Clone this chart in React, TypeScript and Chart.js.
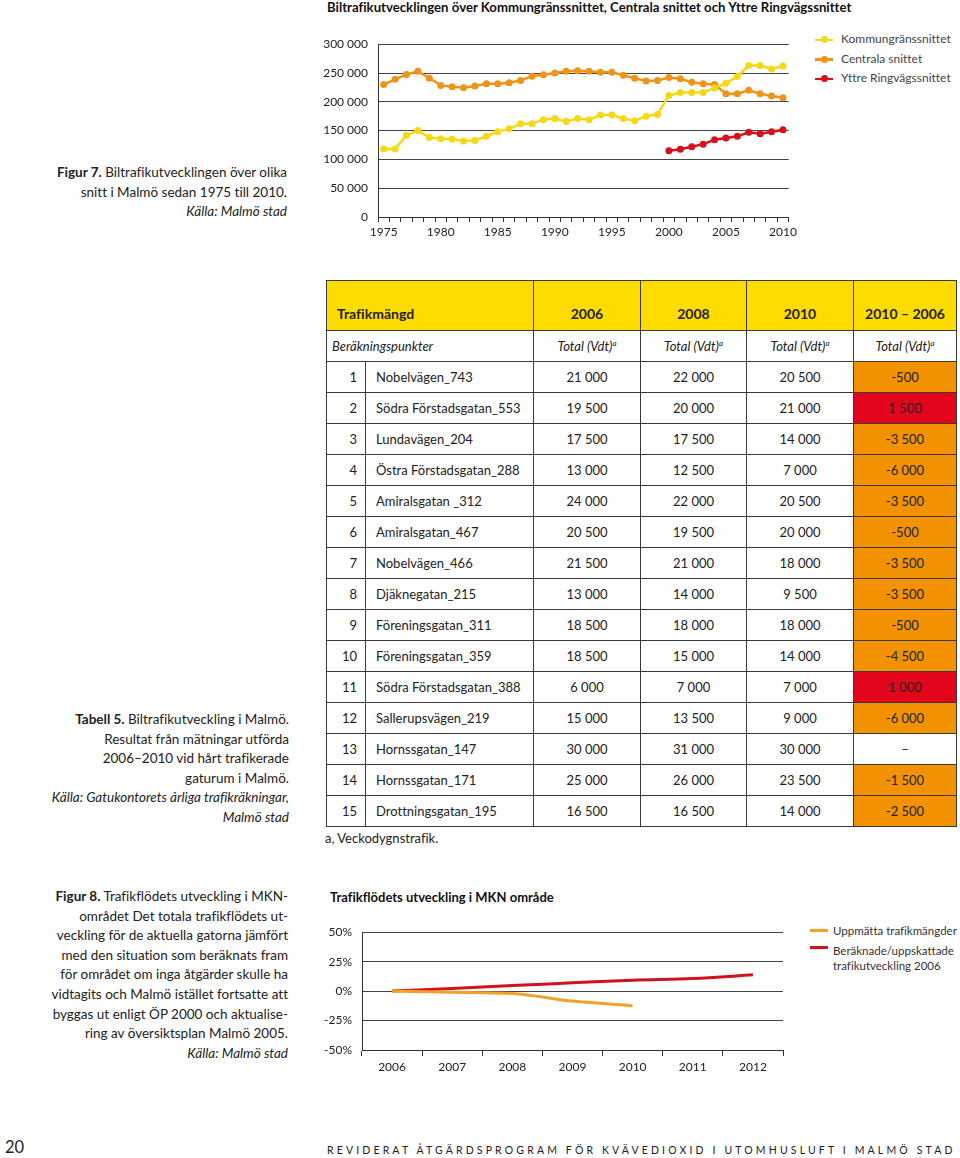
import React, { useEffect, useRef } from 'react';
import Chart from 'chart.js/auto';

// ---------- Figure 7 data ----------
const YEARS = ['1975','1976','1977','1978','1979','1980','1981','1982','1983','1984','1985','1986','1987','1988','1989','1990','1991','1992','1993','1994','1995','1996','1997','1998','1999','2000','2001','2002','2003','2004','2005','2006','2007','2008','2009','2010'];
const KOMMUN = [118000,118000,142000,150000,138000,136000,135000,132000,133000,140000,148000,153000,162000,162000,169000,171000,166000,171000,169000,177000,177000,171000,167000,175000,178000,211000,216000,216000,216000,224000,232000,244000,263000,263000,257000,262000];
const CENTRALA = [230000,239000,247500,253000,241000,228500,226000,224500,227500,231500,231500,233000,237000,244500,247000,250000,253000,254000,253000,251500,251500,246000,241000,236000,237000,242000,240000,234000,231500,230000,214000,214000,220000,214000,210000,207000];
const YTTRE = [null,null,null,null,null,null,null,null,null,null,null,null,null,null,null,null,null,null,null,null,null,null,null,null,null,115000,117500,122000,126500,134000,137000,140000,147000,144500,148000,151500];
const Y1_TICKS = [0, 50000, 100000, 150000, 200000, 250000, 300000];
const FIG7_SERIES = ['Kommungränssnittet', 'Centrala snittet', 'Yttre Ringvägssnittet'];

// ---------- Figure 8 data ----------
const MKN_YEARS = ['2006','2007','2008','2009','2010','2011','2012'];
const UPPMATTA = [0, -1, -2, -8.5, -12.5, null, null];
const BERAKNADE = [0, 2.2, 4.8, 7, 9.3, 10.7, 13.8];
const Y2_TICKS = [-50, -25, 0, 25, 50];
const FIG8_SERIES = ['Uppmätta trafikmängder', 'Beräknade/uppskattade trafikutveckling 2006'];

// ---------- Table 5 data ----------
const PUNKTER = ['Nobelvägen_743','Södra Förstadsgatan_553','Lundavägen_204','Östra Förstadsgatan_288','Amiralsgatan _312','Amiralsgatan_467','Nobelvägen_466','Djäknegatan_215','Föreningsgatan_311','Föreningsgatan_359','Södra Förstadsgatan_388','Sallerupsvägen_219','Hornssgatan_147','Hornssgatan_171','Drottningsgatan_195'];
const V2006 = [21000,19500,17500,13000,24000,20500,21500,13000,18500,18500,6000,15000,30000,25000,16500];
const V2008 = [22000,20000,17500,12500,22000,19500,21000,14000,18000,15000,7000,13500,31000,26000,16500];
const V2010 = [20500,21000,14000,7000,20500,20000,18000,9500,18000,14000,7000,9000,30000,23500,14000];
const DIFF = [-500,1500,-3500,-6000,-3500,-500,-3500,-3500,-500,-4500,1000,-6000,null,-1500,-2500];
const TABLE_YEARS = ['2006','2008','2010','2010 – 2006'];

const YELLOW = '#f6d818';
const ORANGE = '#ef9418';
const RED = '#d8101c';
const ORANGE2 = '#f2a12a';
const RED2 = '#d2121e';
const CELL_ORANGE = '#f39200';
const CELL_RED = '#e3051b';
const HEAD_YELLOW = '#ffdc00';
const FONT = "Lato, 'Open Sans', sans-serif";

const fmt = (n: number) => {
  const s = String(Math.abs(n));
  const out = s.replace(/\B(?=(\d{3})+(?!\d))/g, ' ');
  return (n < 0 ? '-' : '') + out;
};

function Fig7Chart() {
  const ref = useRef<HTMLCanvasElement>(null);
  useEffect(() => {
    if (!ref.current) return;
    const ch = new Chart(ref.current, {
      type: 'line',
      data: {
        labels: YEARS,
        datasets: [
          { label: FIG7_SERIES[0], data: KOMMUN, borderColor: YELLOW, backgroundColor: YELLOW, pointBackgroundColor: YELLOW, pointBorderColor: YELLOW, borderWidth: 2.5, pointRadius: 3.5, pointBorderWidth: 0, tension: 0 },
          { label: FIG7_SERIES[1], data: CENTRALA, borderColor: ORANGE, backgroundColor: ORANGE, pointBackgroundColor: ORANGE, pointBorderColor: ORANGE, borderWidth: 2.5, pointRadius: 3.5, pointBorderWidth: 0, tension: 0 },
          { label: FIG7_SERIES[2], data: YTTRE, borderColor: RED, backgroundColor: RED, pointBackgroundColor: RED, pointBorderColor: RED, borderWidth: 2.5, pointRadius: 3.5, pointBorderWidth: 0, tension: 0, spanGaps: false },
        ],
      },
      options: {
        animation: false,
        responsive: false,
        maintainAspectRatio: false,
        layout: { padding: { top: 10, right: 8, left: 0, bottom: 0 } },
        plugins: { legend: { display: false }, tooltip: { enabled: false } },
        scales: {
          x: {
            offset: true,
            grid: { drawOnChartArea: false, drawTicks: true, tickLength: 5, offset: true, color: '#333' },
            border: { display: true, color: '#333', width: 1 },
            ticks: {
              autoSkip: false, maxRotation: 0, minRotation: 0, padding: 3,
              color: '#222', font: { family: FONT, size: 12 },
              callback: (_v: any, i: number) => (Number(YEARS[i]) % 5 === 0 ? YEARS[i] : ''),
            },
            afterFit: (s: any) => { s.height = 25; },
          },
          y: {
            min: 0, max: 300000,
            afterBuildTicks: (s: any) => { s.ticks = Y1_TICKS.map((v) => ({ value: v })); },
            grid: { color: '#444', drawTicks: false, lineWidth: 1 },
            border: { display: true, color: '#333', width: 1 },
            ticks: { padding: 10, color: '#222', font: { family: FONT, size: 12 }, callback: (v: any) => fmt(Number(v)) },
            afterFit: (s: any) => { s.width = 58; },
          },
        },
      },
    } as any);
    return () => ch.destroy();
  }, []);
  return <canvas ref={ref} width={480} height={215} style={{ position: 'absolute', left: 320, top: 27 }} />;
}

function Fig8Chart() {
  const ref = useRef<HTMLCanvasElement>(null);
  useEffect(() => {
    if (!ref.current) return;
    const ch = new Chart(ref.current, {
      type: 'line',
      data: {
        labels: MKN_YEARS,
        datasets: [
          { label: FIG8_SERIES[0], data: UPPMATTA, borderColor: ORANGE2, backgroundColor: ORANGE2, borderWidth: 3, pointRadius: 0, cubicInterpolationMode: 'monotone' },
          { label: FIG8_SERIES[1], data: BERAKNADE, borderColor: RED2, backgroundColor: RED2, borderWidth: 3, pointRadius: 0, cubicInterpolationMode: 'monotone' },
        ],
      },
      options: {
        animation: false,
        responsive: false,
        maintainAspectRatio: false,
        layout: { padding: { top: 16, right: 17, left: 0, bottom: 0 } },
        plugins: { legend: { display: false }, tooltip: { enabled: false } },
        scales: {
          x: {
            offset: true,
            grid: { drawOnChartArea: false, drawTicks: true, tickLength: 6, offset: true, color: '#333' },
            border: { display: true, color: '#333', width: 1 },
            ticks: { autoSkip: false, maxRotation: 0, padding: 4, color: '#222', font: { family: FONT, size: 12 } },
            afterFit: (s: any) => { s.height = 30; },
          },
          y: {
            min: -50, max: 50,
            afterBuildTicks: (s: any) => { s.ticks = Y2_TICKS.map((v) => ({ value: v })); },
            grid: { color: '#444', drawTicks: false, lineWidth: 1 },
            border: { display: true, color: '#333', width: 1 },
            ticks: { padding: 10, color: '#222', font: { family: FONT, size: 12 }, callback: (v: any) => `${v}%` },
            afterFit: (s: any) => { s.width = 42; },
          },
        },
      },
    } as any);
    return () => ch.destroy();
  }, []);
  return <canvas ref={ref} width={480} height={165} style={{ position: 'absolute', left: 320, top: 915 }} />;
}

const abs = (left: number, top: number, extra: React.CSSProperties = {}): React.CSSProperties => ({
  position: 'absolute', left, top, ...extra,
});

function Caption({ right, top, lines }: { right: number; top: number; lines: React.ReactNode[] }) {
  return (
    <div style={{ position: 'absolute', left: right - 300, width: 300, top, textAlign: 'right', fontSize: 13.5, lineHeight: '19.6px', color: '#222', whiteSpace: 'nowrap' }}>
      {lines.map((l, i) => <div key={i}>{l}</div>)}
    </div>
  );
}

function LegendMarker({ color, dot, gap = 8 }: { color: string; dot: boolean; gap?: number }) {
  return (
    <span style={{ position: 'relative', display: 'inline-block', width: 18, height: 10, marginRight: gap, verticalAlign: 'middle', flex: 'none' }}>
      <span style={{ position: 'absolute', left: 0, top: dot ? 4 : 3, width: 18, height: dot ? 2.5 : 3, background: color }} />
      {dot && <span style={{ position: 'absolute', left: 5.5, top: 1.5, width: 7, height: 7, borderRadius: '50%', background: color }} />}
    </span>
  );
}

function Table5() {
  const border = '1px solid #3a3a3a';
  const colW = [39, 168, 107, 106, 107, 103];
  const td: React.CSSProperties = { border, padding: 0, height: 30, fontSize: 13, color: '#222' };
  const head: React.CSSProperties = { ...td, height: 41, background: HEAD_YELLOW, fontWeight: 700, fontSize: 14, verticalAlign: 'bottom', paddingBottom: 8 };
  return (
    <table style={{ position: 'absolute', left: 326, top: 280, borderCollapse: 'collapse', tableLayout: 'fixed', width: 630, fontFamily: FONT, fontVariantLigatures: 'none' }}>
      <colgroup>{colW.map((w, i) => <col key={i} style={{ width: w }} />)}</colgroup>
      <tbody>
        <tr>
          <td colSpan={2} style={{ ...head, paddingLeft: 10 }}>Trafikmängd</td>
          {TABLE_YEARS.map((y, i) => (
            <td key={i} style={{ ...head, textAlign: 'center' }}>{y}</td>
          ))}
        </tr>
        <tr>
          <td colSpan={2} style={{ ...td, fontStyle: 'italic', paddingLeft: 5 }}>Beräkningspunkter</td>
          {TABLE_YEARS.map((_, i) => (
            <td key={i} style={{ ...td, fontStyle: 'italic', textAlign: 'center' }}>Total (Vdt)<sup style={{ fontSize: 8 }}>a</sup></td>
          ))}
        </tr>
        {PUNKTER.map((name, r) => {
          const d = DIFF[r];
          const bg = d === null ? '#fff' : d > 0 ? CELL_RED : CELL_ORANGE;
          return (
            <tr key={r}>
              <td style={{ ...td, textAlign: 'right', paddingRight: 8 }}>{r + 1}</td>
              <td style={{ ...td, paddingLeft: 10 }}>{name}</td>
              <td style={{ ...td, textAlign: 'center' }}>{fmt(V2006[r])}</td>
              <td style={{ ...td, textAlign: 'center' }}>{fmt(V2008[r])}</td>
              <td style={{ ...td, textAlign: 'center' }}>{fmt(V2010[r])}</td>
              <td style={{ ...td, textAlign: 'center', background: bg }}>{d === null ? '–' : fmt(d)}</td>
            </tr>
          );
        })}
      </tbody>
    </table>
  );
}

export default function App() {
  return (
    <div style={{ position: 'absolute', left: 0, top: 0, width: 960, height: 1158, background: '#fff', fontFamily: FONT, color: '#222', overflow: 'hidden', fontVariantLigatures: 'none' }}>
      <div style={abs(327, 0, { fontSize: 13.2, lineHeight: '15px', fontWeight: 700, whiteSpace: 'nowrap', color: '#111' })}>
        Biltrafikutvecklingen över Kommungränssnittet, Centrala snittet och Yttre Ringvägssnittet
      </div>
      <Fig7Chart />
      <div style={abs(815, 29, { fontSize: 12, lineHeight: '19.5px', color: '#444', whiteSpace: 'nowrap' })}>
        <div><LegendMarker color={YELLOW} dot />{FIG7_SERIES[0]}</div>
        <div><LegendMarker color={ORANGE} dot />{FIG7_SERIES[1]}</div>
        <div><LegendMarker color={RED} dot />{FIG7_SERIES[2]}</div>
      </div>
      <Caption right={287} top={163} lines={[
        <><b>Figur 7.</b> Biltrafikutvecklingen över olika</>,
        'snitt i Malmö sedan 1975 till 2010.',
        <i>Källa: Malmö stad</i>,
      ]} />

      <Table5 />
      <div style={abs(325, 830, { fontSize: 13, whiteSpace: 'nowrap' })}>a, Veckodygnstrafik.</div>
      <Caption right={289} top={710} lines={[
        <><b>Tabell 5.</b> Biltrafikutveckling i Malmö.</>,
        'Resultat från mätningar utförda',
        '2006–2010 vid hårt trafikerade',
        'gaturum i Malmö.',
        <i>Källa: Gatukontorets årliga trafikräkningar,</i>,
        <i>Malmö stad</i>,
      ]} />

      <div style={abs(330, 889, { fontSize: 13, fontWeight: 700, whiteSpace: 'nowrap', color: '#111' })}>Trafikflödets utveckling i MKN område</div>
      <Fig8Chart />
      <div style={abs(810, 923, { fontSize: 11.5, lineHeight: '15px', color: '#333', whiteSpace: 'nowrap' })}>
        <div style={{ marginBottom: 5, display: 'flex', alignItems: 'center' }}><LegendMarker color={ORANGE2} dot={false} gap={5} />{FIG8_SERIES[0]}</div>
        <div style={{ display: 'flex' }}>
          <LegendMarker color={RED2} dot={false} gap={5} />
          <div>Beräknade/uppskattade<br />trafikutveckling 2006</div>
        </div>
      </div>
      <Caption right={288} top={887} lines={[
        <><b>Figur 8.</b> Trafikflödets utveckling i MKN-</>,
        'området Det totala trafikflödets ut-',
        'veckling för de aktuella gatorna jämfört',
        'med den situation som beräknats fram',
        'för området om inga åtgärder skulle ha',
        'vidtagits och Malmö istället fortsatte att',
        'byggas ut enligt ÖP 2000 och aktualise-',
        'ring av översiktsplan Malmö 2005.',
        <i>Källa: Malmö stad</i>,
      ]} />

      <div style={abs(5, 1138, { fontSize: 16.5, lineHeight: '19px', whiteSpace: 'nowrap' })}>20</div>
      <div style={abs(327, 1144, { fontSize: 10.5, letterSpacing: 3.15, whiteSpace: 'nowrap', color: '#222' })}>
        REVIDERAT ÅTGÄRDSPROGRAM FÖR KVÄVEDIOXID I UTOMHUSLUFT I MALMÖ STAD
      </div>
    </div>
  );
}
